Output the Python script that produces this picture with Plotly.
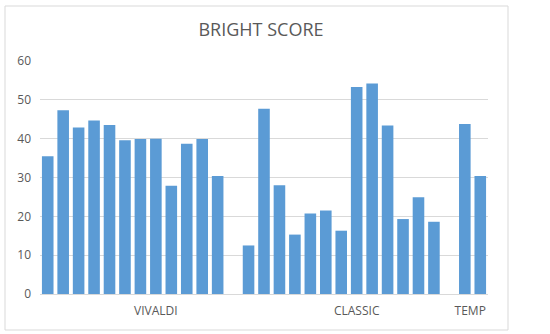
import plotly.graph_objects as go

# bright score per piece, grouped by set (None = gap between groups)
vivaldi = [35.5, 47.3, 42.9, 44.7, 43.5, 39.6, 39.9, 40.0, 27.9, 38.7, 39.9, 30.4]
classic = [12.5, 47.7, 28.0, 15.3, 20.7, 21.5, 16.3, 53.3, 54.2, 43.4, 19.3, 24.9, 18.6]
temp = [43.8, 30.4]

group_labels = ["VIVALDI", "CLASSIC", "TEMP"]
label_pos = [7, 20, 27.35]

scores = vivaldi + [None] + classic + [None] + temp
x = list(range(len(scores)))

fig = go.Figure()
fig.add_trace(go.Bar(x=x, y=scores, marker=dict(color="#5B9BD5", line_width=0)))

W, H = 550, 334
ml, mr, mt, mb = 40, 62, 61, 40
pw, ph = W - ml - mr, H - mt - mb

# light chart-area border like the spreadsheet chart frame
fig.add_shape(type="rect", xref="paper", yref="paper",
              x0=(5 - ml) / pw, x1=(508 - ml) / pw,
              y0=(H - mb - 330) / ph, y1=(H - mb - 6) / ph,
              line=dict(color="#D9D9D9", width=1), layer="below")

fig.update_layout(
    width=W, height=H,
    margin=dict(l=ml, r=mr, t=mt, b=mb),
    paper_bgcolor="white", plot_bgcolor="white",
    font=dict(family="Open Sans", color="#595959", size=12),
    title=dict(text="BRIGHT SCORE", x=(261 - ml) / pw, xref="paper", xanchor="center",
               y=1 - 30 / H, yanchor="middle",
               font=dict(size=18, color="#595959", family="Open Sans")),
    showlegend=False,
    bargap=0.25,
)
fig.update_xaxes(range=[-0.5, len(scores) - 0.5], tickvals=label_pos, ticktext=group_labels,
                 showgrid=False, showline=True, linecolor="#D9D9D9", ticks="",
                 ticklabelstandoff=6, tickfont=dict(size=12, color="#595959"))
fig.update_yaxes(range=[0, 60], dtick=10, showgrid=True, gridcolor="#D9D9D9",
                 zeroline=False, ticks="", ticklabelstandoff=8,
                 tickfont=dict(size=12, color="#595959"))

fig.write_html("out.html", config={"displayModeBar": False},
               post_script="document.body.style.margin='0';")
